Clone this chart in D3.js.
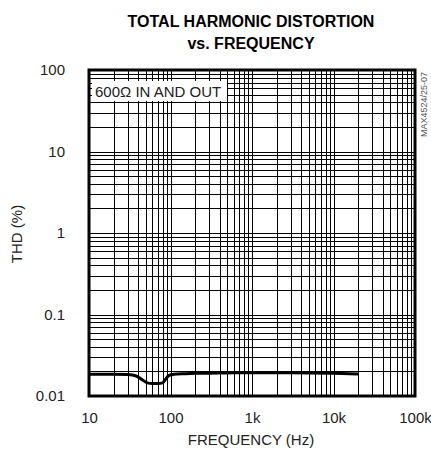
<!DOCTYPE html>
<html>
<head>
<meta charset="utf-8">
<script src="https://cdn.jsdelivr.net/npm/d3@7"></script>
<style>
  body { margin: 0; background: #fff; }
  text { font-family: "Liberation Sans Narrow", "Arial Narrow", "Liberation Sans", sans-serif; fill: #222; }
</style>
</head>
<body>
<script>
// THD vs frequency, 600 ohm in and out
var freq = [10, 20, 30, 38, 45, 52, 60, 70, 80, 88, 95, 110, 150, 200, 500, 1000, 2000, 5000, 10000, 20000];
var thd  = [0.0185, 0.0185, 0.0183, 0.0176, 0.0158, 0.0145, 0.0142, 0.0142, 0.0145, 0.0163, 0.0178, 0.0185, 0.0188, 0.019, 0.0192, 0.0193, 0.0193, 0.0192, 0.019, 0.0186];

var xTicks = [10, 100, 1000, 10000, 100000];
var xTickLabels = ["10", "100", "1k", "10k", "100k"];
var yTicks = [0.01, 0.1, 1, 10, 100];
var yTickLabels = ["0.01", "0.1", "1", "10", "100"];

var W = 431, H = 454;
var pLeft = 89, pRight = 415, pTop = 70, pBottom = 396;

var svg = d3.select("body").append("svg").attr("width", W).attr("height", H);

var x = d3.scaleLog().domain([10, 100000]).range([pLeft, pRight]);
var y = d3.scaleLog().domain([0.01, 100]).range([pBottom, pTop]);

// grid: 2..9 in every decade plus the decade lines
var xGrid = [], yGrid = [];
for (var d = 10; d < 100000; d *= 10) {
  for (var k = 1; k <= 9; k++) if (d * k > 10) xGrid.push(d * k);
}
[0.01, 0.1, 1, 10].forEach(function(d){
  for (var k = 1; k <= 9; k++) if (d * k > 0.01) yGrid.push(d * k);
});

var grid = svg.append("g");
grid.selectAll("line.vx")
  .data(xGrid)
  .enter().append("line")
    .attr("class", "vx")
    .attr("x1", function(d){ return Math.round(x(d)) + 0.5; })
    .attr("x2", function(d){ return Math.round(x(d)) + 0.5; })
    .attr("y1", pTop).attr("y2", pBottom)
    .attr("stroke", "#000").attr("stroke-width", 1);

grid.selectAll("line.hy")
  .data(yGrid)
  .enter().append("line")
    .attr("class", "hy")
    .attr("y1", function(d){ return Math.round(y(d)) + 0.5; })
    .attr("y2", function(d){ return Math.round(y(d)) + 0.5; })
    .attr("x1", pLeft).attr("x2", pRight)
    .attr("stroke", "#000").attr("stroke-width", 1);

// label box
svg.append("rect")
  .attr("x", pLeft + 3).attr("y", 81)
  .attr("width", 135).attr("height", 20)
  .attr("fill", "#fff");
svg.append("text")
  .attr("x", pLeft + 6).attr("y", 97)
  .attr("font-size", 15)
  .text("600Ω IN AND OUT");

// data line
var line = d3.line()
  .x(function(d){ return x(d.f); })
  .y(function(d){ return y(d.v); })
  .curve(d3.curveMonotoneX);

var pts = freq.map(function(f, i){ return {f: f, v: thd[i]}; });
svg.append("path")
  .attr("fill", "none")
  .attr("stroke", "#000")
  .attr("stroke-width", 3)
  .attr("d", line(pts));

// frame
svg.append("rect")
  .attr("x", pLeft).attr("y", pTop)
  .attr("width", pRight - pLeft).attr("height", pBottom - pTop)
  .attr("fill", "none")
  .attr("stroke", "#000").attr("stroke-width", 3);

// axes tick labels
var xAxis = d3.axisBottom(x).tickValues(xTicks)
  .tickFormat(function(d, i){ return xTickLabels[i]; })
  .tickSize(0).tickPadding(16);
var gx = svg.append("g").attr("transform", "translate(0," + pBottom + ")").call(xAxis);
gx.select(".domain").remove();
gx.selectAll("text").attr("font-size", 15).attr("fill", "#222")
  .style("font-family", "'Liberation Sans Narrow', 'Arial Narrow', sans-serif");

var yAxis = d3.axisLeft(y).tickValues(yTicks)
  .tickFormat(function(d, i){ return yTickLabels[i]; })
  .tickSize(0).tickPadding(24);
var gy = svg.append("g").attr("transform", "translate(" + pLeft + ",0)").call(yAxis);
gy.select(".domain").remove();
gy.selectAll("text").attr("font-size", 15).attr("fill", "#222")
  .style("font-family", "'Liberation Sans Narrow', 'Arial Narrow', sans-serif");

// titles
svg.append("text")
  .attr("x", 251).attr("y", 27)
  .attr("text-anchor", "middle")
  .attr("font-size", 16).attr("font-weight", "bold")
  .style("fill", "#000")
  .text("TOTAL HARMONIC DISTORTION");
svg.append("text")
  .attr("x", 251).attr("y", 49)
  .attr("text-anchor", "middle")
  .attr("font-size", 16).attr("font-weight", "bold")
  .style("fill", "#000")
  .text("vs. FREQUENCY");

svg.append("text")
  .attr("x", 251).attr("y", 445)
  .attr("text-anchor", "middle")
  .attr("font-size", 15)
  .text("FREQUENCY (Hz)");

svg.append("text")
  .attr("transform", "translate(22,234) rotate(-90)")
  .attr("text-anchor", "middle")
  .attr("font-size", 15)
  .text("THD (%)");

svg.append("text")
  .attr("transform", "translate(427,72) rotate(-90)")
  .attr("text-anchor", "end")
  .attr("font-size", 9)
  .style("fill", "#555")
  .text("MAX4524/25-07");
</script>
</body>
</html>
